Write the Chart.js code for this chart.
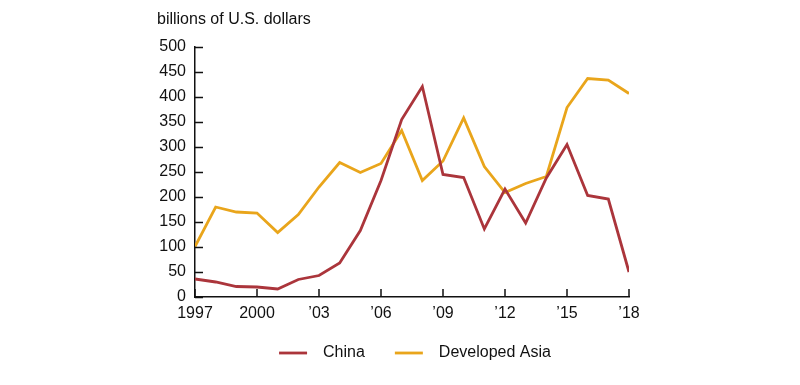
<!DOCTYPE html>
<html>
<head>
<meta charset="utf-8">
<script src="https://cdn.jsdelivr.net/npm/chart.js@4"></script>
<style>
  html, body { margin: 0; padding: 0; background: #fff; }
  #wrap { width: 800px; height: 385px; }
</style>
</head>
<body>
<div id="wrap"><canvas id="myChart"></canvas></div>
<script>
"use strict"

// dati
const anni = [1997, 1998, 1999, 2000, 2001, 2002, 2003, 2004, 2005, 2006, 2007,
              2008, 2009, 2010, 2011, 2012, 2013, 2014, 2015, 2016, 2017, 2018];
const china = [36, 30, 21, 20, 16, 35, 43, 68, 133, 233, 355,
               421, 245, 239, 136, 216, 148, 238, 305, 203, 196, 50];
const developedAsia = [101, 180, 170, 168, 129, 165, 220, 269, 249, 267, 333,
                       233, 272, 358, 261, 209, 227, 241, 379, 437, 434, 407];
const etichetteX = { 1997: "1997", 2000: "2000", 2003: "\u201903", 2006: "\u201906",
                     2009: "\u201909", 2012: "\u201912", 2015: "\u201915", 2018: "\u201918" };
const unita = "billions of U.S. dollars";

const font = "'Liberation Sans', Arial, Helvetica, sans-serif";

// tacche verso l'interno + etichetta unità
const tacche = {
    id: "tacche",
    afterDraw(chart) {
        const ctx = chart.ctx;
        const x = chart.scales.x;
        const y = chart.scales.y;
        ctx.save();
        ctx.strokeStyle = "#111";
        ctx.lineWidth = 1.5;
        ctx.beginPath();
        for (let v = 0; v <= 500; v += 50) {
            const py = Math.round(y.getPixelForValue(v)) + 0.5;
            ctx.moveTo(x.left, py);
            ctx.lineTo(x.left + 8, py);
        }
        Object.keys(etichetteX).forEach(function (a) {
            const px = Math.round(x.getPixelForValue(Number(a)));
            ctx.moveTo(px, y.bottom);
            ctx.lineTo(px, y.bottom - 8);
        });
        ctx.stroke();
        ctx.fillStyle = "#111";
        ctx.font = "16px " + font;
        ctx.textBaseline = "middle";
        ctx.textAlign = "left";
        ctx.fillText(unita, x.left - 38, 20);
        ctx.restore();
    }
};

new Chart(document.getElementById("myChart"), {
    type: "line",
    data: {
        datasets: [{
            label: "China",
            data: anni.map((a, i) => ({ x: a, y: china[i] })),
            borderColor: "#ab353b",
            backgroundColor: "#ab353b",
            borderWidth: 2.8,
            pointRadius: 0,
            tension: 0
        },
        {
            label: "Developed Asia",
            data: anni.map((a, i) => ({ x: a, y: developedAsia[i] })),
            borderColor: "#e9a51b",
            backgroundColor: "#e9a51b",
            borderWidth: 2.8,
            pointRadius: 0,
            tension: 0
        }]
    },
    options: {
        responsive: true,
        maintainAspectRatio: false,
        animation: false,
        layout: { padding: { left: 30, right: 0, top: 47, bottom: 14 } },
        plugins: {
            tooltip: { enabled: false },
            legend: {
                position: "bottom",
                labels: {
                    usePointStyle: true,
                    pointStyle: "line",
                    pointStyleWidth: 28,
                    padding: 14,
                    color: "#111",
                    font: { family: font, size: 16 },
                    // spazi per distanziare linea/testo e voci
                    generateLabels: function (chart) {
                        const voci = Chart.defaults.plugins.legend.labels.generateLabels(chart);
                        voci.forEach(function (v, i) {
                            v.text = "\u2002" + v.text + (i < voci.length - 1 ? "\u2003" : "");
                        });
                        return voci;
                    }
                }
            }
        },
        scales: {
            x: {
                type: "linear",
                min: 1997,
                max: 2018,
                afterFit: function (s) { s.height = 34; },
                afterBuildTicks: function (s) {
                    s.ticks = Object.keys(etichetteX).map(a => ({ value: Number(a) }));
                },
                grid: { display: false, drawTicks: false },
                border: { color: "#111", width: 1.5 },
                ticks: {
                    padding: 7,
                    color: "#111",
                    maxRotation: 0,
                    autoSkip: false,
                    font: { family: font, size: 16 },
                    callback: function (v) { return etichetteX[v] || ""; }
                }
            },
            y: {
                min: 0,
                max: 500,
                afterFit: function (s) { s.width = 165; },
                grid: { display: false, drawTicks: false },
                border: { color: "#111", width: 1.5 },
                ticks: {
                    stepSize: 50,
                    padding: 9,
                    color: "#111",
                    font: { family: font, size: 16 }
                }
            },
            destra: {
                position: "right",
                afterFit: function (s) { s.width = 171; },
                grid: { display: false, drawTicks: false },
                border: { display: false },
                ticks: { display: false }
            }
        }
    },
    plugins: [tacche]
});
</script>
</body>
</html>
